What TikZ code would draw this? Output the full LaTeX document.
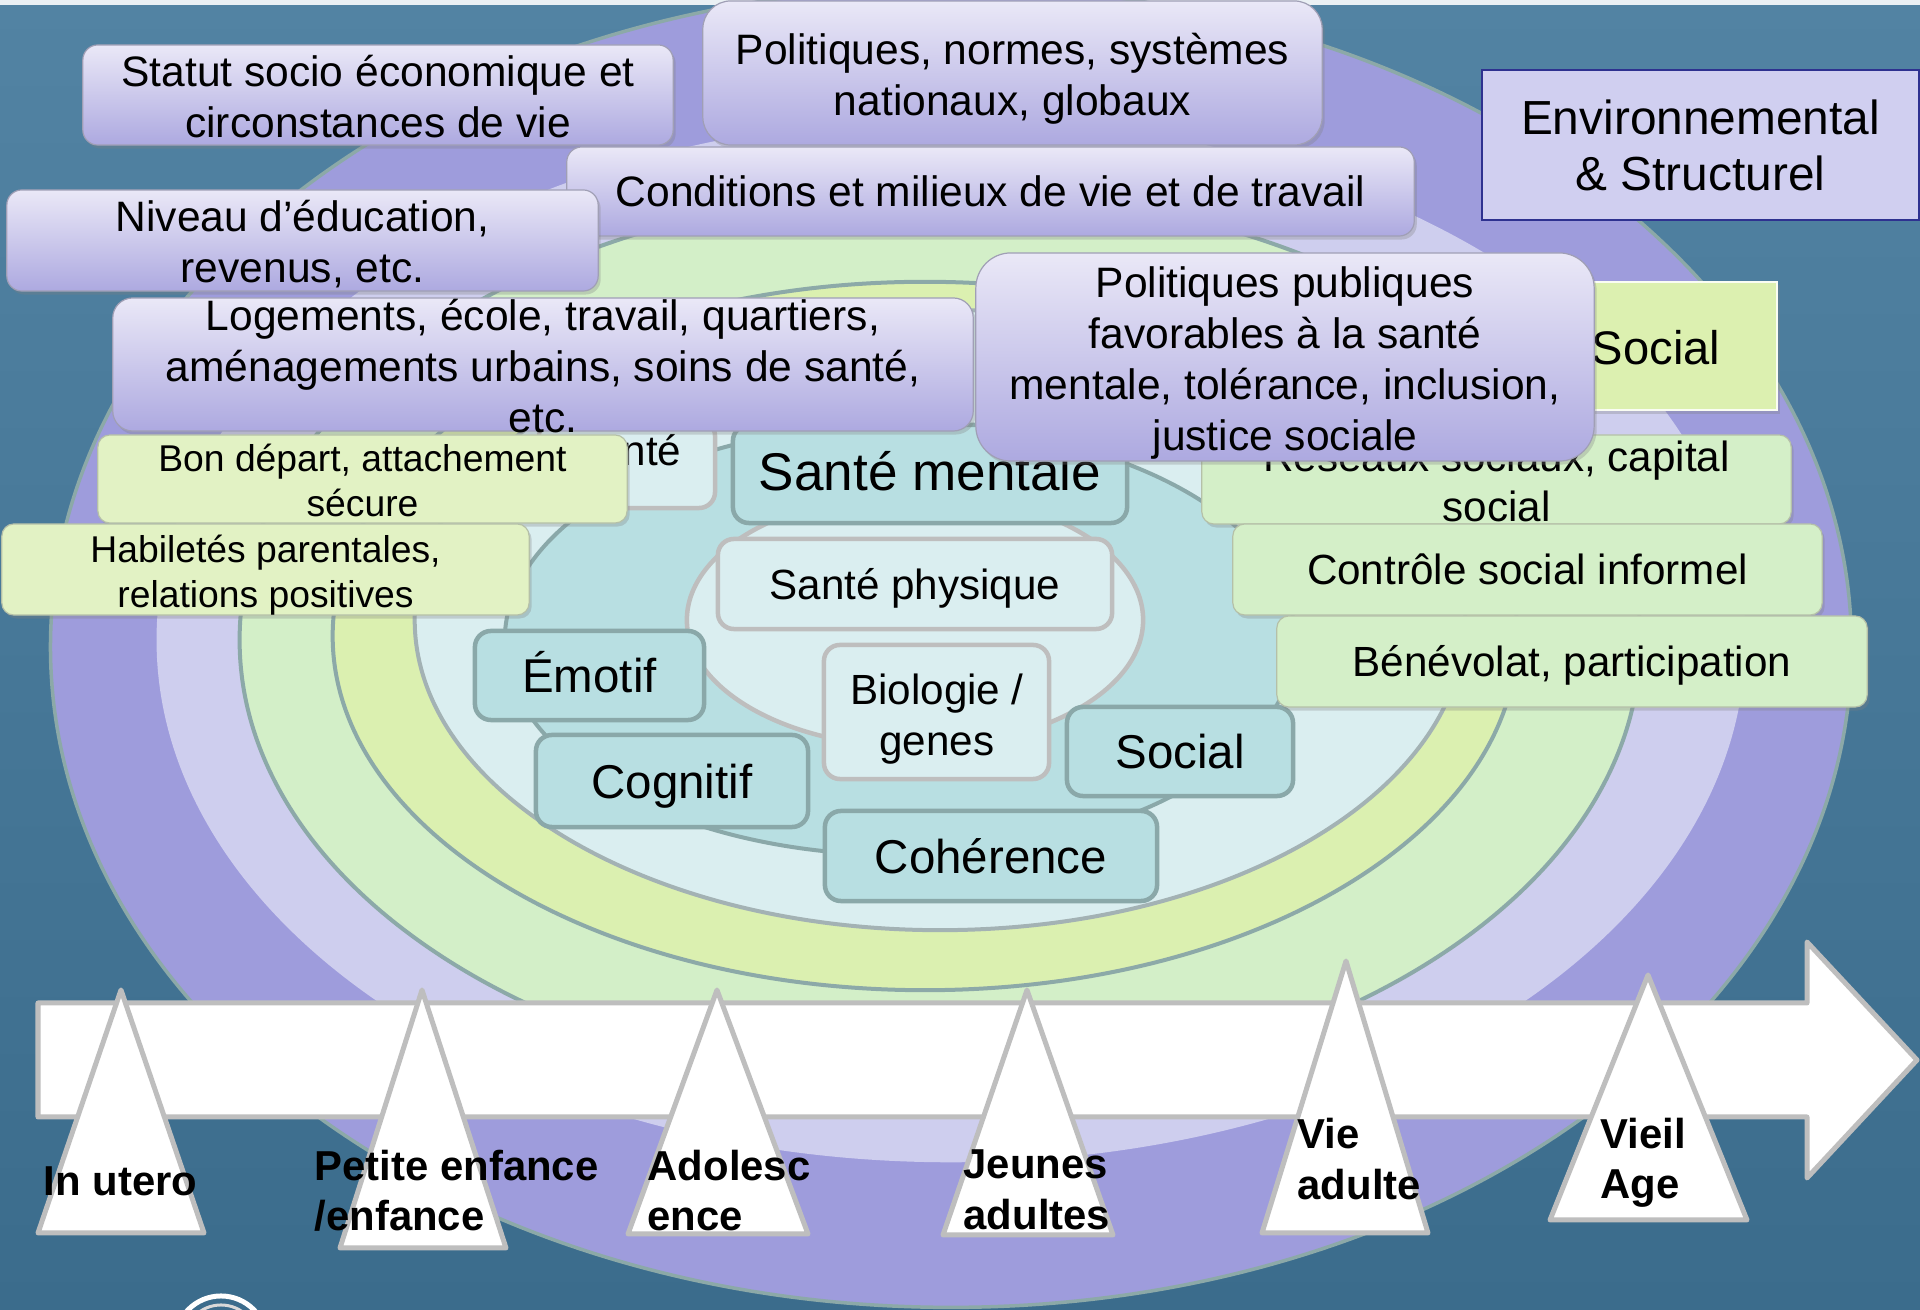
\documentclass[tikz,border=0pt]{standalone}
\usepackage{fontspec}
\setmainfont{Liberation Sans}
\usetikzlibrary{shadows}
\definecolor{bgTop}{HTML}{5283A3}
\definecolor{bgBot}{HTML}{3B6C8C}
\definecolor{cPur}{HTML}{9E9CDC}
\definecolor{cLav}{HTML}{CECEEE}
\definecolor{cLgr}{HTML}{D3EFC8}
\definecolor{cYel}{HTML}{DBF0B0}
\definecolor{cLbl}{HTML}{DAEEF0}
\definecolor{cTeal}{HTML}{B8DFE2}
\definecolor{cRing}{HTML}{8CA9A8}
\definecolor{cGrayL}{HTML}{A3B2B4}
\definecolor{cTealL}{HTML}{8AA8A9}
\definecolor{cGray}{HTML}{BEBEBE}
\definecolor{pTop}{HTML}{EAE8F7}
\definecolor{pBot}{HTML}{ADA9E0}
\definecolor{pEdge}{HTML}{A09FB5}
\definecolor{gYel}{HTML}{E2F2C4}
\definecolor{gGrn}{HTML}{D4EFC8}
\definecolor{gEdge}{HTML}{B5C0A8}
\definecolor{envFill}{HTML}{D0CFF0}
\definecolor{envEdge}{HTML}{2E3190}
\definecolor{socFill}{HTML}{DCF0B0}

\newcommand\fsP{\fontsize{12.1pt}{14.5pt}\selectfont}
\newcommand\fsEnv{\fontsize{13.6pt}{15.9pt}\selectfont}
\newcommand\fsMen{\fontsize{15.1pt}{17pt}\selectfont}
\newcommand\fsTl{\fontsize{13.5pt}{15pt}\selectfont}
\newcommand\fsLb{\fontsize{12.0pt}{14.5pt}\selectfont}
\newcommand\fsGR{\fontsize{12.0pt}{14.2pt}\selectfont}
\newcommand\fsGL{\fontsize{10.6pt}{12.8pt}\selectfont}
\newcommand\fsSoc{\fontsize{13.4pt}{15pt}\selectfont}
\newcommand\fsTri{\bfseries\fontsize{11.9pt}{14.4pt}\selectfont}
\newcommand\vstrt{\rule[-0.23em]{0pt}{1.18em}}

\tikzset{
  box/.style={inner sep=0pt, outer sep=0pt},
  sz/.style 2 args={minimum width=#1cm, minimum height=#2cm},
  shad/.style={drop shadow={opacity=0.3, shadow xshift=0.025cm, shadow yshift=-0.035cm}},
  pbox/.style={box, draw=pEdge, line width=0.012cm, top color=pTop, bottom color=pBot, rounded corners=0.15cm, shad},
  glbox/.style={box, draw=gEdge, line width=0.012cm, fill=gYel, rounded corners=0.12cm, shad},
  grbox/.style={box, draw=gEdge, line width=0.012cm, fill=gGrn, rounded corners=0.12cm, shad},
  tbox/.style={box, draw=cTealL, line width=0.045cm, fill=cTeal, rounded corners=0.16cm},
  lbox/.style={box, draw=cGray, line width=0.045cm, fill=cLbl, rounded corners=0.16cm},
  txt/.style={inner sep=0pt, align=center, text=black, execute at begin node=\vstrt, execute at end node=\vstrt},
  txtm/.style={txt, yshift=-0.06cm},
  tri/.style={fill=white, draw=cGray, line width=0.05cm, line join=round},
  trilab/.style={inner sep=0pt, anchor=base west, font=\fsTri, text=black},
}

\begin{document}
\begin{tikzpicture}[x=0.01cm, y=-0.01cm]
\useasboundingbox (0,0) rectangle (1920,1310);
\clip (0,0) rectangle (1920,1310);
% background
\shade[top color=bgTop, bottom color=bgBot] (0,0) rectangle (1920,1310);
\fill[white!88!bgTop] (0,0) rectangle (1920,5);

% rings
\filldraw[fill=cPur, draw=cRing, line width=0.035cm] (951,647) ellipse [x radius=9cm, y radius=6.6cm];
\fill[cLav] (951,640) ellipse [x radius=7.94cm, y radius=5.22cm];
\filldraw[fill=cLgr, draw=cRing, line width=0.04cm] (940,640) ellipse [x radius=7.0cm, y radius=4.5cm];
\filldraw[fill=cYel, draw=cRing, line width=0.04cm] (925,636) ellipse [x radius=5.92cm, y radius=3.54cm];
\filldraw[fill=cLbl, draw=cGrayL, line width=0.04cm] (940,620) ellipse [x radius=5.25cm, y radius=3.10cm];
\filldraw[fill=cTeal, draw=cTealL, line width=0.04cm] (900,640) ellipse [x radius=3.95cm, y radius=2.15cm];
\filldraw[fill=cLbl, draw=cGray, line width=0.045cm] (915,620) ellipse [x radius=2.28cm, y radius=1.27cm];

% inner boxes
\node[lbox, sz={1.76}{0.88}] (nte) at (627,464) {};
\node[inner sep=0pt, font=\fsLb, anchor=base east] (nte-t) at (682,466) {Santé};
\node[tbox, sz={3.94}{0.98}] (mentale) at (930,474) {};
\node[txt, font=\fsMen] (mentale-t) at (930,471) {Santé mentale};
\node[lbox, sz={3.94}{0.90}] (physique) at (915,584) {};
\node[txt, font=\fsLb] (physique-t) at (physique) {Santé physique};
\node[lbox, sz={2.25}{1.34}] (bio) at (936.5,712) {};
\node[txtm, font=\fsLb] (bio-t) at (937,714) {Biologie /\\genes};
\node[tbox, sz={2.29}{0.89}] (emotif) at (589.5,675.5) {};
\node[txt, font=\fsTl] (emotif-t) at (emotif) {Émotif};
\node[tbox, sz={2.72}{0.92}] (cognitif) at (672,781) {};
\node[txt, font=\fsTl] (cognitif-t) at (cognitif) {Cognitif};
\node[tbox, sz={2.26}{0.89}] (socialT) at (1180,751.5) {};
\node[txt, font=\fsTl] (socialT-t) at (socialT) {Social};
\node[tbox, sz={3.32}{0.90}] (coher) at (991,856) {};
\node[txt, font=\fsTl] (coher-t) at (coher) {Cohérence};

% purple boxes
\node[pbox, sz={5.90}{1.00}] (statut) at (378,95) {};
\node[txtm, font=\fsP] (statut-t) at (statut) {Statut socio économique et\\circonstances de vie};
\node[pbox, sz={6.19}{1.44}, rounded corners=0.28cm] (polnorm) at (1012.5,73) {};
\node[txtm, font=\fsP] (polnorm-t) at (polnorm) {Politiques, normes, systèmes\\nationaux, globaux};
\node[pbox, sz={8.47}{0.89}] (cond) at (990.5,191.5) {};
\node[txt, font=\fsP] (cond-t) at (cond) {Conditions et milieux de vie et de travail};
\node[pbox, sz={5.91}{1.01}] (niveau) at (302.5,240.5) {};
\node[txtm, font=\fsP] (niveau-t) at (niveau) {Niveau d’éducation,\\revenus, etc.};
\node[pbox, sz={8.60}{1.33}, rounded corners=0.2cm] (logem) at (543,364.5) {};
\node[txtm, font=\fsP] (logem-t) at (logem) {Logements, école, travail, quartiers,\\aménagements urbains, soins de santé,\\etc.};

% right side
\node[box, draw=envEdge, line width=0.025cm, fill=envFill, sz={4.37}{1.50}] (env) at (1700.5,145) {};
\node[txtm, font=\fsEnv] (env-t) at (env) {Environnemental\\\& Structurel};
\node[box, draw=white!85!socFill, line width=0.02cm, fill=socFill, sz={2.42}{1.28}, shad] (socG) at (1656,346) {};
\node[txt, font=\fsSoc] (socG-t) at (1656,348) {Social};
\node[grbox, sz={5.89}{0.89}] (reseaux) at (1496.5,479.5) {};
\node[txtm, font=\fsGR] (reseaux-t) at (reseaux) {Réseaux sociaux, capital\\social};
\node[grbox, sz={5.89}{0.91}] (controle) at (1527.5,569.5) {};
\node[txt, font=\fsGR] (controle-t) at (controle) {Contrôle social informel};
\node[grbox, sz={5.90}{0.91}] (benev) at (1572,661.5) {};
\node[txt, font=\fsGR] (benev-t) at (benev) {Bénévolat, participation};
\node[pbox, sz={6.18}{2.08}, rounded corners=0.35cm] (polpub) at (1285,357) {};
\node[txtm, font=\fsP] (polpub-t) at (polpub) {Politiques publiques\\favorables à la santé\\mentale, tolérance, inclusion,\\justice sociale};

% left green boxes
\node[glbox, sz={5.29}{0.88}] (bon) at (362.5,479) {};
\node[txtm, font=\fsGL] (bon-t) at (bon) {Bon départ, attachement\\sécure};
\node[glbox, sz={5.27}{0.91}] (habil) at (265.5,569.5) {};
\node[txtm, font=\fsGL] (habil-t) at (habil) {Habiletés parentales,\\relations positives};

% timeline arrow
\filldraw[fill=white, draw=cGray, line width=0.05cm, line join=round]
  (38,1003) -- (1807,1003) -- (1807,942) -- (1917,1060) -- (1807,1178) -- (1807,1117) -- (38,1117) -- cycle;
\filldraw[tri] (121,990) -- (204,1233) -- (38,1233) -- cycle;
\filldraw[tri] (422,990) -- (506,1248) -- (340,1248) -- cycle;
\filldraw[tri] (717,990) -- (808,1234) -- (628,1234) -- cycle;
\filldraw[tri] (1027,990) -- (1113,1235) -- (943,1235) -- cycle;
\filldraw[tri] (1346,961) -- (1428,1233) -- (1262,1233) -- cycle;
\filldraw[tri] (1648,975) -- (1747,1220) -- (1550,1220) -- cycle;

\node[trilab] (l1) at (43,1196) {In utero};
\node[trilab] (l2a) at (314,1181) {Petite enfance};
\node[trilab] (l2b) at (314,1231) {/enfance};
\node[trilab] (l3a) at (647,1181) {Adolesc};
\node[trilab] (l3b) at (647,1231) {ence};
\node[trilab] (l4a) at (963,1179) {Jeunes};
\node[trilab] (l4b) at (963,1230) {adultes};
\node[trilab] (l5a) at (1297,1149) {Vie};
\node[trilab] (l5b) at (1297,1200) {adulte};
\node[trilab] (l6a) at (1600,1149) {Vieil};
\node[trilab] (l6b) at (1600,1199) {Age};

% logo fragment
\draw[white, line width=0.05cm] (221,1342) circle [radius=0.46cm];
\draw[white!70!gray, line width=0.03cm] (221,1342) circle [radius=0.37cm];
\end{tikzpicture}
\end{document}
